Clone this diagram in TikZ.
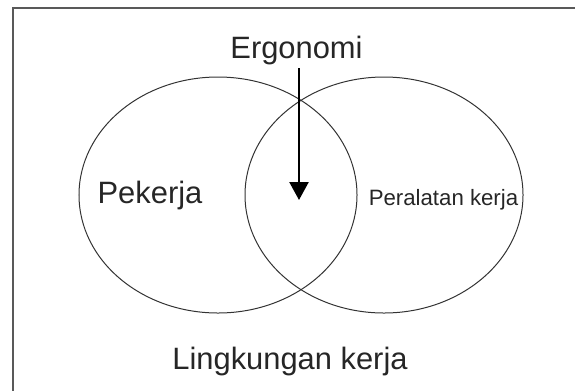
\documentclass[tikz,border=0pt]{standalone}
\usepackage{fontspec}
\setmainfont{Liberation Sans}
\usetikzlibrary{shapes.geometric,arrows.meta}
\begin{document}
\begin{tikzpicture}[x=1bp, y=-1bp,
    venn/.style={draw=black!80, line width=1bp, ellipse, inner sep=0pt, minimum width=278bp, minimum height=236bp},
    bigtext/.style={anchor=base, inner sep=0pt, font=\fontsize{31}{36}\selectfont, text=black!85},
    smalltext/.style={anchor=base, inner sep=0pt, font=\fontsize{22.3}{26}\selectfont, text=black!85}]
    \useasboundingbox (0,0) rectangle (575,390);
    \draw[black!65, line width=1.5bp] (13,392) -- (13,8) -- (577,8);
    \node[venn] (pekerjaset) at (218,195) {};
    \node[venn] (alatset) at (384,195) {};
    \node[bigtext] (ergonomi) at (296.5,58) {Ergonomi};
    \node[bigtext] (pekerja) at (150,203) {Pekerja};
    \node[smalltext] (alat) at (443.5,205) {Peralatan kerja};
    \node[bigtext] (lingkungan) at (290,369) {Lingkungan kerja};
    \coordinate (arrtop) at (299,68);
    \coordinate (arrtip) at (299,200);
    \draw[line width=2.4bp, -{Triangle[length=18bp, width=19bp]}] (arrtop) -- (arrtip);
\end{tikzpicture}
\end{document}
